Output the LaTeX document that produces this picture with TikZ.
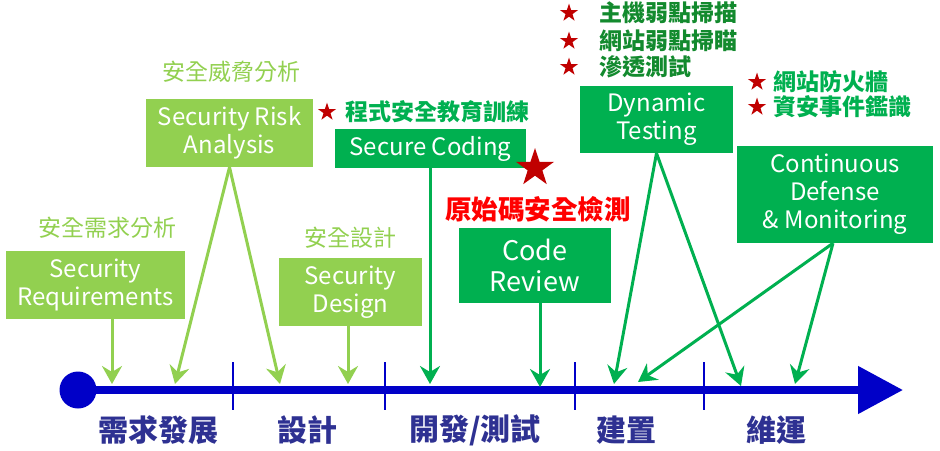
\documentclass[tikz,border=0pt]{standalone}
\usepackage{fontspec}
\setmainfont{Noto Sans CJK TC}
\usetikzlibrary{arrows.meta,shapes.geometric}
\definecolor{lgreen}{HTML}{92D050}
\definecolor{dgreen}{HTML}{00B050}
\definecolor{listgreen}{HTML}{138A2E}
\definecolor{axisblue}{HTML}{0000C8}
\definecolor{phasenavy}{HTML}{2E3192}
\definecolor{starred}{HTML}{C00000}
\tikzset{
  box/.style={text=white, align=center, inner sep=0pt, font=\fontsize{24}{28}\selectfont},
  lightbox/.style={box, fill=lgreen},
  darkbox/.style={box, fill=dgreen},
  phase/.style={text=phasenavy, inner sep=0pt, font=\bfseries\fontsize{30}{30}\selectfont},
  tag/.style={text=lgreen, inner sep=0pt, font=\fontsize{23}{23}\selectfont},
  note/.style={inner sep=0pt, anchor=west, font=\bfseries\fontsize{23}{28}\selectfont},
  redstar/.style={star, star points=5, star point ratio=2.6, fill=starred, inner sep=0pt, minimum size=19pt},
  tick/.style={axisblue, line width=2.5pt},
  larrow/.style={lgreen, line width=3pt, -{Stealth[length=18pt, width=20pt, inset=6pt]}},
  darrow/.style={dgreen, line width=3pt, -{Stealth[length=18pt, width=20pt, inset=6pt]}}
}
\begin{document}
\begin{tikzpicture}[x=1pt, y=-1pt]
  \useasboundingbox (0,0) rectangle (940,450);
  % time line
  \node[circle, fill=axisblue, inner sep=0pt, minimum size=37pt] (origin) at (78,390) {};
  \coordinate (tip) at (903,390);
  \draw[axisblue, line width=8pt, -{Triangle[length=45pt, width=46pt]}] (origin.center) -- (tip);
  \foreach \x/\name in {233/k1, 385/k2, 575/k3, 704/k4} {
    \coordinate (\name a) at (\x,362);
    \coordinate (\name b) at (\x,410);
    \draw[tick] (\name a) -- (\name b);
  }
  % phases
  \node[phase] (ph1) at (158,430) {需求發展};
  \node[phase] (ph2) at (307,430) {設計};
  \node[phase] (ph3) at (475,430) {開發/測試};
  \node[phase] (ph4) at (626,430) {建置};
  \node[phase] (ph5) at (776,430) {維運};
  % boxes
  \node[lightbox, minimum width=179pt, minimum height=68pt] (req) at (95.5,285) {Security\\Requirements};
  \node[lightbox, minimum width=167pt, minimum height=68pt] (risk) at (229.5,133) {Security Risk\\Analysis};
  \node[lightbox, minimum width=143pt, minimum height=68pt] (design) at (350.5,292) {Security\\Design};
  \node[darkbox, minimum width=191pt, minimum height=39pt] (coding) at (430.5,148.5) {Secure Coding};
  \node[darkbox, minimum width=152pt, minimum height=75pt, font=\fontsize{27}{31}\selectfont] (review) at (535,265.5) {Code\\Review};
  \node[darkbox, minimum width=153pt, minimum height=67pt] (dyn) at (656.5,119.5) {Dynamic\\Testing};
  \node[darkbox, minimum width=196pt, minimum height=97pt] (cont) at (835,194.5) {Continuous\\Defense\\\& Monitoring};
  % tags above boxes
  \node[tag] (treq) at (107,228) {安全需求分析};
  \node[tag] (trisk) at (231,72) {安全威脅分析};
  \node[tag] (tdesign) at (350,238) {安全設計};
  % notes
  \node[redstar] (s1) at (327,112) {};
  \node[note, text=dgreen] (n1) at (345,112) {程式安全教育訓練};
  \node[redstar, minimum size=40pt] (sbig) at (535,168) {};
  \node[note, text=red, font=\bfseries\fontsize{26.5}{28}\selectfont] (n2) at (445,209) {原始碼安全檢測};
  \foreach \y/\txt [count=\i] in {13/主機弱點掃描, 41/網站弱點掃瞄, 67/滲透測試} {
    \node[redstar] (ls\i) at (569,\y) {};
    \node[note, text=listgreen] (ln\i) at (599,\y) {\txt};
  }
  \foreach \y/\txt [count=\i] in {82/網站防火牆, 107/資安事件鑑識} {
    \node[redstar] (rs\i) at (757,\y) {};
    \node[note, text=dgreen] (rn\i) at (773,\y) {\txt};
  }
  % arrow tips on the time line
  \coordinate (a1) at (112,384);
  \coordinate (a2) at (175,384);
  \coordinate (a3) at (280,384);
  \coordinate (a4) at (348,384);
  \coordinate (a5) at (430,384);
  \coordinate (a6) at (540,387);
  \coordinate (a7) at (614,384);
  \coordinate (a8) at (638,382);
  \coordinate (a9) at (741,386);
  \coordinate (a10) at (795,384);
  \draw[larrow] (req.south -| a1) -- (a1);
  \draw[larrow] (risk.south) -- (a2);
  \draw[larrow] (risk.south) -- (a3);
  \draw[larrow] (design.south -| a4) -- (a4);
  \draw[darrow] (coding.south -| a5) -- (a5);
  \draw[darrow] (review.south -| a6) -- (a6);
  \draw[darrow] (dyn.south) -- (a7);
  \draw[darrow] (dyn.south) -- (a9);
  \draw[darrow] ([xshift=-2pt]cont.south) -- (a8);
  \draw[darrow] ([xshift=-2pt]cont.south) -- (a10);
\end{tikzpicture}
\end{document}
